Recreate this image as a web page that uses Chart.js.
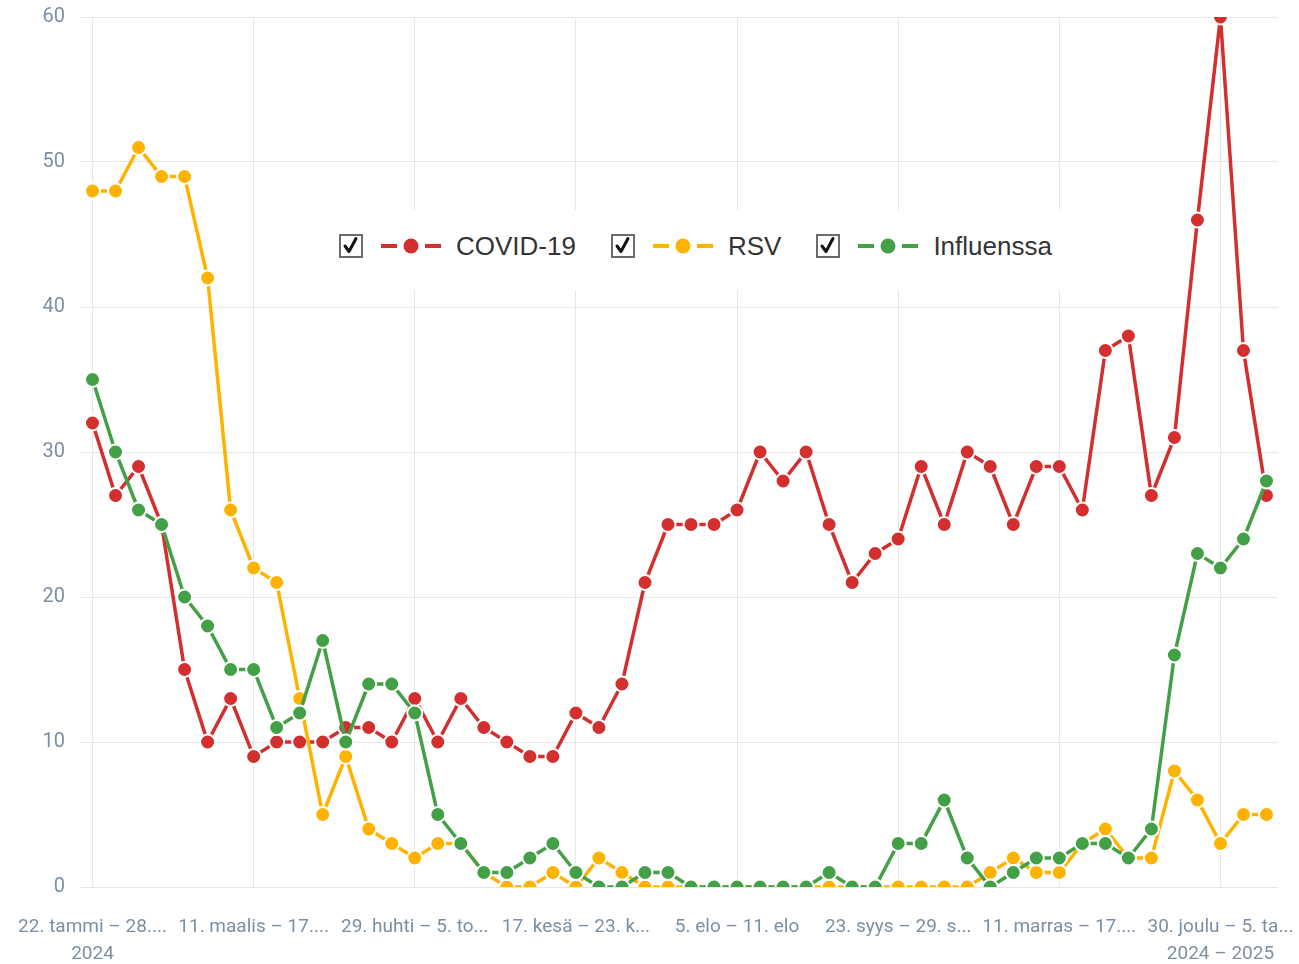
<!DOCTYPE html>
<html lang="fi">
<head>
<meta charset="utf-8">
<title>COVID-19, RSV, Influenssa</title>
<script src="https://cdn.jsdelivr.net/npm/chart.js@4.4.1/dist/chart.umd.min.js"></script>
<style>
    body { margin: 0; background: #fff; }
    #wrap { position: relative; width: 1299px; height: 964px; }
    #legend {
        position: absolute; left: 325px; top: 210px; width: 750px; height: 80px;
        background: #fff; display: flex; align-items: center; padding: 0 0 8px 14px; box-sizing: border-box;
        font-family: 'Liberation Sans', Arial, sans-serif; font-size: 26px; color: #333;
        white-space: nowrap;
    }
    .item { display: flex; align-items: center; margin-right: 35px; flex-shrink: 0; }
    .item svg { display: block; flex-shrink: 0; }
    .item .check { margin-right: 18px; }
    .item .mark { margin-right: 15px; }
</style>
</head>
<body>
<div id="wrap">
    <canvas id="chart" width="1299" height="964"></canvas>
    <div id="legend"></div>
</div>
<script>
// weekly case counts
const seriesNames = ['COVID-19', 'RSV', 'Influenssa'];
const seriesColors = ['#d32f2f', '#ffb300', '#43a047'];

const covid = [32, 27, 29, 25, 15, 10, 13, 9, 10, 10, 10, 11, 11, 10, 13, 10, 13, 11, 10, 9, 9, 12, 11, 14, 21, 25,
               25, 25, 26, 30, 28, 30, 25, 21, 23, 24, 29, 25, 30, 29, 25, 29, 29, 26, 37, 38, 27, 31, 46, 60, 37, 27];
const rsv = [48, 48, 51, 49, 49, 42, 26, 22, 21, 13, 5, 9, 4, 3, 2, 3, 3, 1, 0, 0, 1, 0, 2, 1,
             0, 0, 0, 0, 0, 0, 0, 0, 0, 0, 0, 0, 0, 0, 0,
             1, 2, 1, 1, 3, 4, 2, 2, 8, 6, 3, 5, 5];
const influenza = [35, 30, 26, 25, 20, 18, 15, 15, 11, 12, 17, 10, 14, 14, 12, 5, 3, 1, 1, 2, 3, 1, 0, 0, 1, 1,
                   0, 0, 0, 0, 0, 0, 1, 0, 0, 3, 3, 6, 2, 0, 1, 2, 2, 3, 3, 2, 4, 16, 23, 22, 24, 28];

// x axis: one category per week, a label every 7th week
const tickEvery = 7;
const tickLabels = ['22. tammi – 28....', '11. maalis – 17....', '29. huhti – 5. to...', '17. kesä – 23. k...',
                    '5. elo – 11. elo', '23. syys – 29. s...', '11. marras – 17....', '30. joulu – 5. ta...'];
const tickYears = ['2024', '', '', '', '', '', '', '2024 – 2025'];
const yTicks = [0, 10, 20, 30, 40, 50, 60];

const months = ['tammi', 'helmi', 'maalis', 'huhti', 'touko', 'kesä', 'heinä', 'elo', 'syys', 'loka', 'marras', 'joulu'];
const weeks = covid.map((_, i) => {
    const start = new Date(2024, 0, 22 + i * 7);
    const end = new Date(2024, 0, 28 + i * 7);
    return `${start.getDate()}. ${months[start.getMonth()]} – ${end.getDate()}. ${months[end.getMonth()]}`;
});

const tickColor = '#7d8fa3';
const gridColor = '#e6e6e6';

function makeDataset(idx, values, order) {
    const color = seriesColors[idx];
    return {
        label: seriesNames[idx],
        data: values,
        borderColor: color,
        backgroundColor: color,
        borderWidth: 3.5,
        pointRadius: 7.5,
        pointBorderWidth: 2,
        pointBorderColor: '#fff',
        pointBackgroundColor: color,
        tension: 0,
        order: order
    };
}

new Chart(document.getElementById('chart'), {
    type: 'line',
    data: {
        labels: weeks,
        datasets: [
            makeDataset(0, covid, 3),
            makeDataset(1, rsv, 2),
            makeDataset(2, influenza, 1)
        ]
    },
    options: {
        responsive: false,
        animation: false,
        layout: { padding: { top: 17, right: 21, left: 0, bottom: 0 } },
        plugins: {
            legend: { display: false },
            tooltip: { enabled: false }
        },
        scales: {
            x: {
                offset: true,
                // ticks without a label are dropped, so grid lines only stand at the labelled weeks
                grid: { offset: false, drawTicks: false, color: gridColor },
                border: { display: false },
                ticks: {
                    autoSkip: false,
                    maxRotation: 0,
                    padding: 27,
                    color: tickColor,
                    font: { family: 'Roboto', size: 19, lineHeight: '27px' },
                    callback: (value, index) => {
                        if (index % tickEvery !== 0) return null;
                        const k = index / tickEvery;
                        return tickYears[k] ? [tickLabels[k], tickYears[k]] : tickLabels[k];
                    }
                },
                afterFit: scale => {
                    scale.height = 77;
                    scale.paddingLeft = 0;
                    scale.paddingRight = 0;
                }
            },
            y: {
                min: yTicks[0],
                max: yTicks[yTicks.length - 1],
                grid: { drawTicks: false, color: gridColor },
                border: { display: false },
                ticks: {
                    stepSize: 10,
                    padding: 16,
                    color: tickColor,
                    font: { family: 'Roboto', size: 20 }
                },
                afterFit: scale => {
                    scale.width = 81;
                    scale.paddingTop = 0;
                    scale.paddingBottom = 0;
                }
            }
        }
    }
});

// legend with check boxes, drawn over the plot
const legend = document.getElementById('legend');
seriesNames.forEach((name, i) => {
    const color = seriesColors[i];
    const item = document.createElement('div');
    item.className = 'item';
    item.innerHTML = `
        <svg class="check" width="24" height="24" viewBox="0 0 24 24">
            <rect x="1" y="1" width="22" height="22" fill="#fff" stroke="#6b6b6b" stroke-width="2"/>
            <path d="M6 12 L10 17.5 L17 4.5" fill="none" stroke="#111" stroke-width="3" stroke-linecap="round" stroke-linejoin="round"/>
        </svg>
        <svg class="mark" width="60" height="16" viewBox="0 0 60 16">
            <line x1="0" y1="8" x2="16" y2="8" stroke="${color}" stroke-width="4"/>
            <line x1="44" y1="8" x2="60" y2="8" stroke="${color}" stroke-width="4"/>
            <circle cx="30" cy="8" r="7.5" fill="${color}"/>
        </svg>
        <span>${name}</span>`;
    legend.appendChild(item);
});
</script>
</body>
</html>
